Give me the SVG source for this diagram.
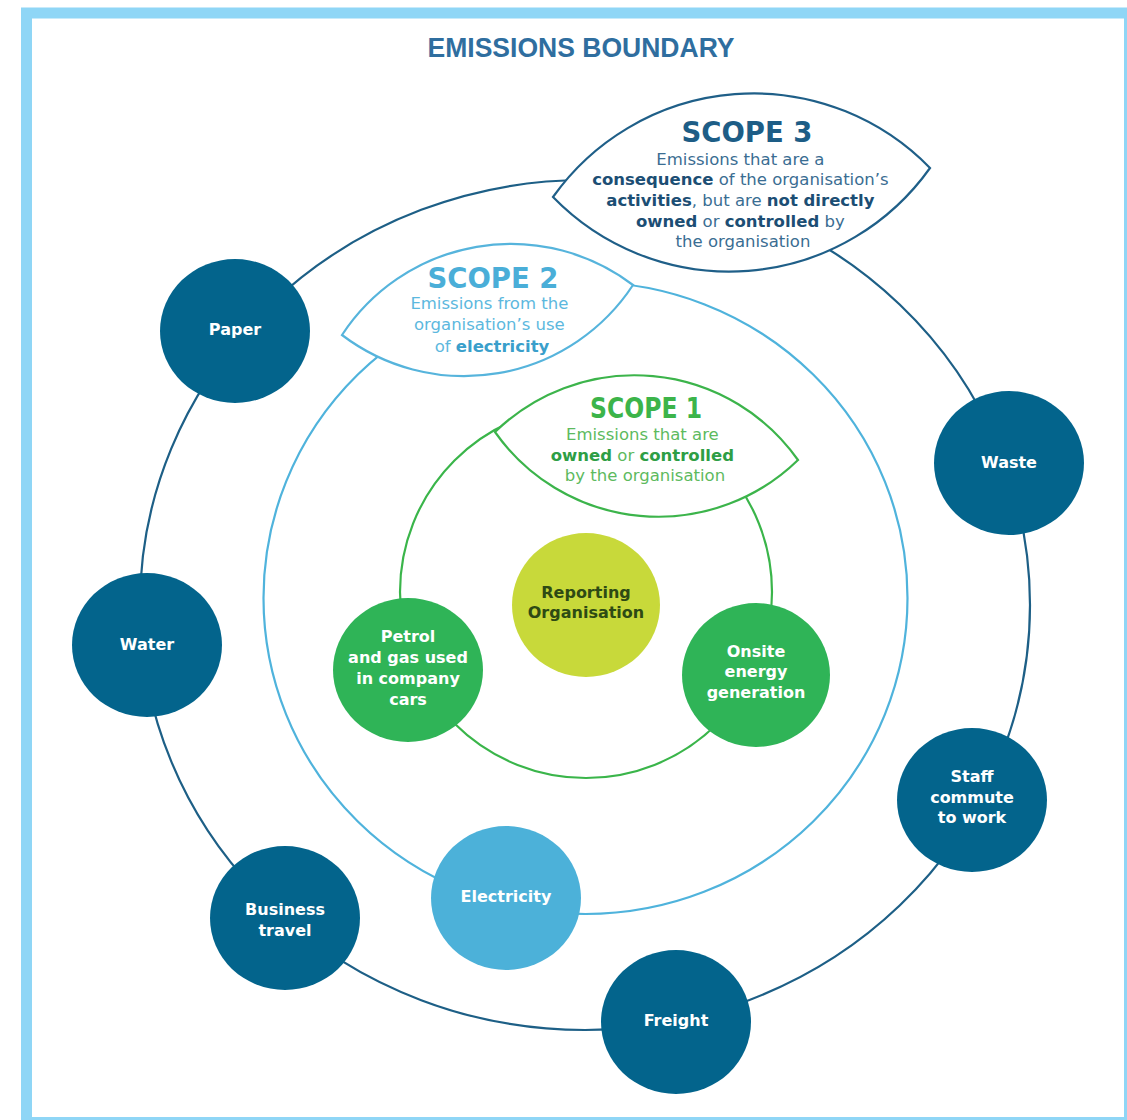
<svg xmlns="http://www.w3.org/2000/svg" width="1127" height="1120" viewBox="0 0 1127 1120">
<style>
.node{fill:#03648c}
.nt{font-family:"DejaVu Sans",Verdana,sans-serif;font-weight:bold;font-size:16px;fill:#ffffff;text-anchor:middle}
.ring{fill:none;stroke-width:2.2}
.leaf{fill:#ffffff;stroke-width:2.2}
.hd{font-family:"DejaVu Sans",Verdana,sans-serif;font-weight:bold;font-size:27.5px;text-anchor:middle}
.body{font-family:"DejaVu Sans",Verdana,sans-serif;font-size:16.5px;text-anchor:middle}
.b{font-weight:bold}
</style>
<rect x="0" y="0" width="1127" height="1120" fill="#ffffff"/>
<rect x="26.5" y="13" width="1103" height="1109.5" fill="none" stroke="#8fd6f6" stroke-width="11"/>
<text x="581" y="57" font-family="'Liberation Sans',Arial,sans-serif" font-weight="bold" font-size="27" fill="#2f6e9f" text-anchor="middle" textLength="307" lengthAdjust="spacingAndGlyphs">EMISSIONS BOUNDARY</text>

<g id="connectors">
  <ellipse class="ring" cx="585" cy="605" rx="445" ry="425" stroke="#1d5f86"/>
  <ellipse class="ring" cx="585.5" cy="598" rx="322" ry="316" stroke="#4fb3dc"/>
  <circle class="ring" cx="586" cy="592" r="186" stroke="#3ab54a"/>
</g>

<g id="scope3">
  <path class="leaf" stroke="#1f5f88" d="M553,197 A246,246 0 0 1 930,168 A246,246 0 0 1 553,197 Z"/>
  <text class="hd" x="747" y="142" fill="#1d5d86">SCOPE 3</text>
  <text class="body" fill="#3a6d92">
    <tspan x="743" y="165">Emissions that are a</tspan>
    <tspan x="743" y="185"><tspan class="b" fill="#1c4e74">consequence</tspan> of the organisation’s</tspan>
    <tspan x="743" y="206"><tspan class="b" fill="#1c4e74">activities</tspan>, but are <tspan class="b" fill="#1c4e74">not directly</tspan></tspan>
    <tspan x="743" y="227"><tspan class="b" fill="#1c4e74">owned</tspan> or <tspan class="b" fill="#1c4e74">controlled</tspan> by</tspan>
    <tspan x="743" y="247">the organisation</tspan>
  </text>
</g>

<g id="scope2">
  <path class="leaf" stroke="#56b4dc" d="M342,335 A202,202 0 0 1 633,285 A202,202 0 0 1 342,335 Z"/>
  <text class="hd" x="493" y="288" fill="#4aaed8">SCOPE 2</text>
  <text class="body" fill="#5cb8de">
    <tspan x="492" y="309">Emissions from the</tspan>
    <tspan x="492" y="330">organisation’s use</tspan>
    <tspan x="492" y="352">of <tspan class="b" fill="#3a9fcb">electricity</tspan></tspan>
  </text>
</g>

<g id="scope1">
  <path class="leaf" stroke="#3cb44b" d="M495,432 A200,200 0 0 1 798,460 A200,200 0 0 1 495,432 Z"/>
  <text class="hd" x="646" y="418" fill="#3cb44a" textLength="112" lengthAdjust="spacingAndGlyphs">SCOPE 1</text>
  <text class="body" fill="#5dba5e">
    <tspan x="645" y="440">Emissions that are</tspan>
    <tspan x="645" y="461"><tspan class="b" fill="#2e9e45">owned</tspan> or <tspan class="b" fill="#2e9e45">controlled</tspan></tspan>
    <tspan x="645" y="481">by the organisation</tspan>
  </text>
</g>

<g id="reporting">
  <ellipse cx="586" cy="605" rx="74" ry="72" fill="#c8d93a"/>
  <text class="nt" fill="#2e4a14" style="fill:#2e4a14"><tspan x="586" y="598">Reporting</tspan><tspan x="586" y="618">Organisation</tspan></text>
</g>
<g id="petrol">
  <ellipse cx="408" cy="670" rx="75" ry="72" fill="#2fb457"/>
  <text class="nt"><tspan x="408" y="642">Petrol</tspan><tspan x="408" y="663">and gas used</tspan><tspan x="408" y="684">in company</tspan><tspan x="408" y="705">cars</tspan></text>
</g>
<g id="onsite">
  <ellipse cx="756" cy="675" rx="74" ry="72" fill="#2fb457"/>
  <text class="nt"><tspan x="756" y="657">Onsite</tspan><tspan x="756" y="677">energy</tspan><tspan x="756" y="698">generation</tspan></text>
</g>
<g id="electricity">
  <ellipse cx="506" cy="898" rx="75" ry="72" fill="#4cb1d9"/>
  <text class="nt" x="506" y="902">Electricity</text>
</g>
<g id="paper">
  <ellipse class="node" cx="235" cy="331" rx="75" ry="72"/>
  <text class="nt" x="235" y="335">Paper</text>
</g>
<g id="water">
  <ellipse class="node" cx="147" cy="645" rx="75" ry="72"/>
  <text class="nt" x="147" y="650">Water</text>
</g>
<g id="business-travel">
  <ellipse class="node" cx="285" cy="918" rx="75" ry="72"/>
  <text class="nt"><tspan x="285" y="915">Business</tspan><tspan x="285" y="936">travel</tspan></text>
</g>
<g id="freight">
  <ellipse class="node" cx="676" cy="1022" rx="75" ry="72"/>
  <text class="nt" x="676" y="1026">Freight</text>
</g>
<g id="staff-commute">
  <ellipse class="node" cx="972" cy="800" rx="75" ry="72"/>
  <text class="nt"><tspan x="972" y="782">Staff</tspan><tspan x="972" y="803">commute</tspan><tspan x="972" y="823">to work</tspan></text>
</g>
<g id="waste">
  <ellipse class="node" cx="1009" cy="463" rx="75" ry="72"/>
  <text class="nt" x="1009" y="468">Waste</text>
</g>
</svg>
